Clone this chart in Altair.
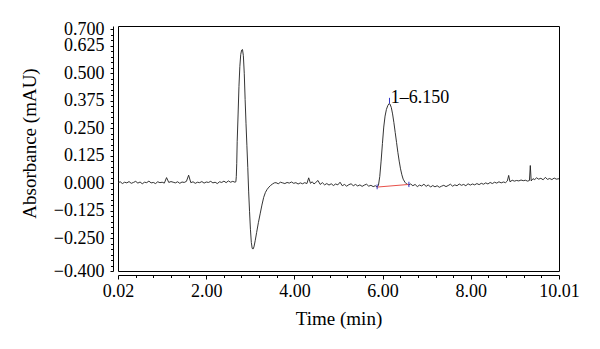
import json
import altair as alt
import pandas as pd

# ---------------- data ----------------
time_min = [
    0.02, 0.07, 0.12, 0.17, 0.22, 0.27, 0.32, 0.37, 0.42, 0.47,
    0.52, 0.57, 0.62, 0.67, 0.72, 0.77, 0.82, 0.87, 0.92, 0.97,
    1.02, 1.07, 1.12, 1.17, 1.22, 1.27, 1.32, 1.37, 1.42, 1.47,
    1.52, 1.57, 1.62, 1.67, 1.72, 1.77, 1.82, 1.87, 1.92, 1.97,
    2.02, 2.07, 2.12, 2.17, 2.22, 2.27, 2.32, 2.37, 2.42, 2.47,
    2.52, 2.57, 2.62, 2.67,
    2.69, 2.70, 2.71, 2.72, 2.74, 2.76, 2.78, 2.80, 2.82, 2.84,
    2.86, 2.88, 2.90, 2.92, 2.94, 2.96, 2.98, 3.00, 3.02, 3.04,
    3.06, 3.08, 3.10, 3.13, 3.16, 3.20, 3.24, 3.28, 3.32, 3.36,
    3.40, 3.44, 3.48, 3.52, 3.56,
    3.60, 3.65, 3.70, 3.75, 3.80, 3.85, 3.90, 3.95, 4.00, 4.05,
    4.10, 4.15, 4.20, 4.25, 4.30, 4.34, 4.38, 4.42, 4.46, 4.50,
    4.55, 4.60, 4.65, 4.70, 4.75, 4.80, 4.85, 4.90, 4.95, 5.00,
    5.05, 5.10, 5.15, 5.20, 5.25, 5.30, 5.35, 5.40, 5.45, 5.50,
    5.55, 5.60, 5.65, 5.70, 5.75, 5.80, 5.85, 5.89,
    5.92, 5.95, 5.98, 6.01, 6.04, 6.07, 6.10, 6.13, 6.16, 6.18,
    6.21, 6.24, 6.27, 6.30, 6.33, 6.36, 6.39, 6.42, 6.45, 6.48,
    6.52, 6.56, 6.60,
    6.65, 6.70, 6.75, 6.80, 6.85, 6.90, 6.95, 7.00, 7.05, 7.10,
    7.15, 7.20, 7.25, 7.30, 7.35, 7.40, 7.45, 7.50, 7.55, 7.60,
    7.65, 7.70, 7.75, 7.80, 7.85, 7.90, 7.95, 8.00, 8.05, 8.10,
    8.15, 8.20, 8.25, 8.30, 8.35, 8.40, 8.45, 8.50, 8.55, 8.60,
    8.65, 8.70, 8.75, 8.80, 8.84, 8.87, 8.90, 8.95, 9.00, 9.05,
    9.10, 9.15, 9.20, 9.25, 9.30, 9.34, 9.36, 9.38, 9.42, 9.46,
    9.50, 9.55, 9.60, 9.65, 9.70, 9.75, 9.80, 9.85, 9.90, 9.95,
    10.01,
]

absorbance = [
    0.002, 0.006, -0.002, 0.004, 0.001, 0.007, -0.001, 0.003, 0.008, 0.000,
    0.005, -0.003, 0.004, 0.002, 0.009, 0.001, 0.003, -0.002, 0.006, 0.002,
    0.004, 0.000, 0.025, 0.003, 0.007, 0.004, 0.001, 0.006, -0.001, 0.005,
    0.003, 0.008, 0.036, 0.002, 0.006, -0.001, 0.004, 0.002, 0.007, 0.000,
    0.005, 0.003, 0.008, 0.001, 0.004, -0.002, 0.006, 0.003, 0.009, 0.002,
    0.010, 0.004, 0.008, 0.004,
    0.006, 0.030, 0.090, 0.190, 0.310, 0.440, 0.530, 0.585, 0.605, 0.608,
    0.580, 0.500, 0.380, 0.270, 0.170, 0.070, -0.040, -0.130, -0.210, -0.270,
    -0.297, -0.300, -0.290, -0.260, -0.225, -0.180, -0.140, -0.100, -0.065, -0.042,
    -0.028, -0.018, -0.010, -0.004, 0.001,
    0.002, -0.003, 0.004, 0.001, -0.002, 0.003, 0.000, 0.005, -0.001, 0.002,
    -0.004, 0.001, -0.003, 0.002, -0.002, 0.024, -0.001, 0.006, -0.004, 0.003,
    0.012, -0.006, 0.002, -0.008, -0.002, -0.009, -0.003, -0.011, -0.004, -0.008,
    0.004, -0.012, -0.006, -0.014, -0.007, -0.003, -0.012, -0.006, -0.013, -0.008,
    -0.015, -0.009, -0.005, -0.014, -0.010, -0.016, -0.012, -0.018,
    -0.010, 0.030, 0.100, 0.180, 0.255, 0.305, 0.335, 0.352, 0.362, 0.360,
    0.345, 0.315, 0.275, 0.230, 0.185, 0.140, 0.100, 0.065, 0.038, 0.018,
    0.004, -0.004, -0.008,
    -0.004, -0.012, -0.006, -0.016, -0.009, -0.013, -0.005, -0.015, -0.008, -0.018,
    -0.011, -0.017, -0.012, -0.019, -0.014, -0.010, -0.016, -0.011, -0.005, -0.014,
    -0.008, -0.012, -0.004, -0.010, -0.006, -0.012, -0.003, -0.009, -0.004, -0.008,
    -0.002, -0.007, -0.001, -0.005, 0.001, -0.004, 0.003, -0.002, 0.004, 0.000,
    0.006, 0.001, 0.005, 0.002, 0.010, 0.035, 0.006, 0.013, 0.009, 0.012,
    0.010, 0.014, 0.011, 0.013, 0.009, 0.012, 0.080, 0.010, 0.020, 0.016,
    0.024, 0.018, 0.022, 0.015, 0.026, 0.017, 0.021, 0.016, 0.023, 0.018,
    0.020,
]

# integration baseline of peak 1 (red) and its markers (blue)
baseline_time = [5.89, 6.61]
baseline_value = [-0.018, -0.006]
marker_time = [5.89, 6.61, 6.17]
marker_low = [-0.028, -0.018, 0.362]
marker_high = [-0.006, 0.006, 0.388]

peak_label = "1\u20136.150"
peak_label_time = 6.20
peak_label_value = 0.366

# axis ticks
x_major_values = [0.02, 2.018, 4.016, 6.014, 8.012, 10.01]
x_major_labels = ["0.02", "2.00", "4.00", "6.00", "8.00", "10.01"]
x_tick_values = [round(0.02 + 0.3996 * i, 4) for i in range(26)]
y_major_values = [0.7, 0.625, 0.5, 0.375, 0.25, 0.125, 0.0, -0.125, -0.25, -0.4]
y_tick_values = [round(-0.4 + 0.025 * i, 3) + 0.0 for i in range(45)]

# ---------------- chart ----------------
FONT = "Liberation Serif"

x_label_expr = " : ".join(
    f"datum.value == {json.dumps(v)} ? '{l}'" for v, l in zip(x_major_values, x_major_labels)
) + " : ''"
x_major_test = f"indexof({json.dumps(x_major_values)}, datum.value) >= 0"
y_major_test = f"indexof({json.dumps(y_major_values)}, datum.value) >= 0"
y_label_expr = f"{y_major_test} ? replace(format(datum.value, '.3f'), '-', '\u2212') : ''"

x_scale = alt.Scale(domain=[0.02, 10.01], nice=False, zero=False)
y_scale = alt.Scale(domain=[-0.4, 0.715], nice=False, zero=False)

x_axis = alt.Axis(
    title="Time (min)",
    values=x_tick_values,
    labelExpr=x_label_expr,
    tickSize={"condition": {"test": x_major_test, "value": 4}, "value": 2.5},
    offset=4,
    labelPadding=3,
    titlePadding=9,
    labelFontSize=18,
    titleFontSize=19,
    labelOverlap=False,
    labelFlush=False,
)
y_axis = alt.Axis(
    title="Absorbance (mAU)",
    values=y_tick_values,
    labelExpr=y_label_expr,
    tickSize={"condition": {"test": y_major_test, "value": 3}, "value": 2.5},
    offset=5,
    labelPadding=6,
    titlePadding=14,
    titleY=117,
    labelFontSize=18,
    titleFontSize=19,
    labelOverlap=False,
    labelFlush=False,
)

X = alt.X("time:Q", scale=x_scale, axis=x_axis)
Y = alt.Y("value:Q", scale=y_scale, axis=y_axis)

trace_df = pd.DataFrame({"time": time_min, "value": absorbance})
base_df = pd.DataFrame({"time": baseline_time, "value": baseline_value})
mark_df = pd.DataFrame({"time": marker_time, "value": marker_low, "value2": marker_high})
label_df = pd.DataFrame({"time": [peak_label_time], "value": [peak_label_value], "label": [peak_label]})

trace = alt.Chart(trace_df).mark_line(color="#1e1e1e", strokeWidth=0.9).encode(x=X, y=Y)
baseline = alt.Chart(base_df).mark_line(color="#e8504a", strokeWidth=1).encode(x=X, y=Y)
markers = alt.Chart(mark_df).mark_rule(color="#3535c8", strokeWidth=1).encode(
    x=X, y=Y, y2=alt.Y2("value2:Q")
)
label = alt.Chart(label_df).mark_text(
    align="left", baseline="alphabetic", font=FONT, fontSize=18, color="black"
).encode(x=X, y=Y, text="label:N")

chart = (
    alt.layer(trace, baseline, markers, label)
    .properties(
        width=441,
        height=245,
        autosize=alt.AutoSizeParams(type="none"),
        padding={"left": 110, "top": 18, "right": 33, "bottom": 60},
        background="white",
    )
    .configure_view(stroke="black", strokeWidth=1)
    .configure_axis(
        grid=False,
        domainColor="black",
        tickColor="black",
        labelColor="black",
        titleColor="black",
        labelFont=FONT,
        titleFont=FONT,
        titleFontWeight="normal",
        domainWidth=1,
        tickWidth=1,
    )
)

chart.save("out.html", embed_options={"renderer": "svg", "actions": False})
